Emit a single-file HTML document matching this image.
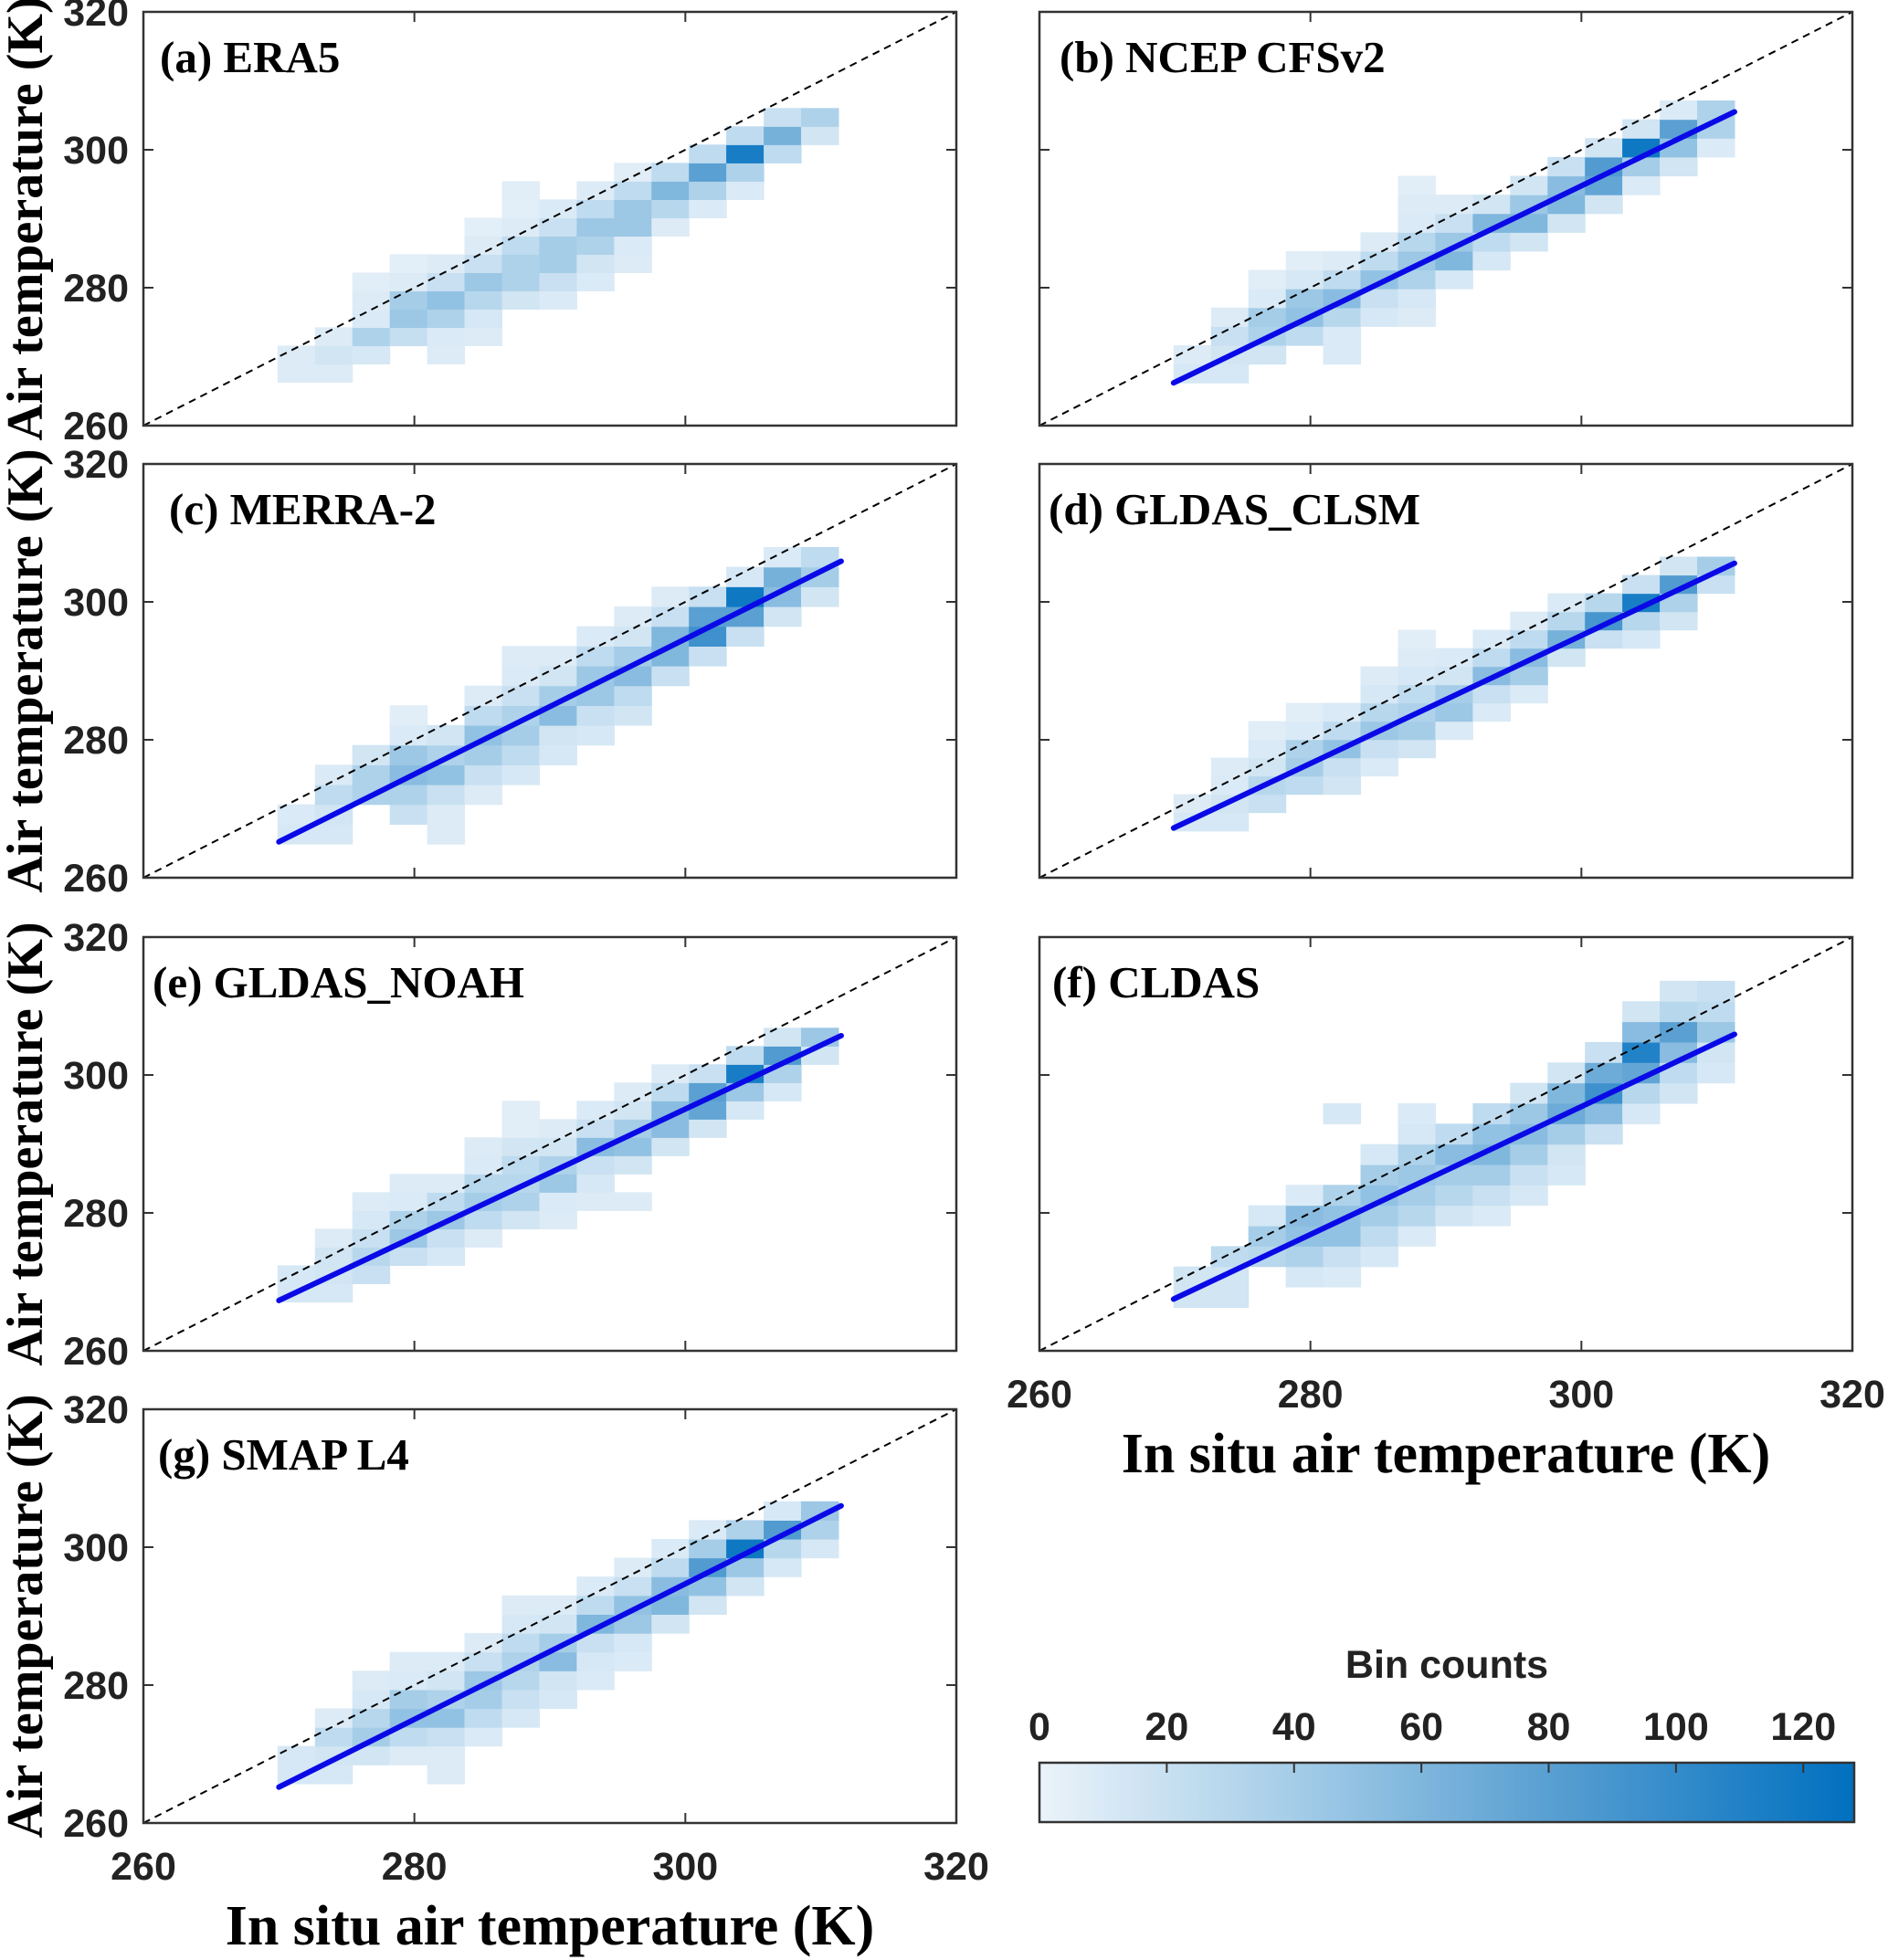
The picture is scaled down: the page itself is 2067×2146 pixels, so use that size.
<!DOCTYPE html>
<html><head><meta charset="utf-8">
<style>
html,body{margin:0;padding:0;background:#fff;}
svg{display:block;}
.tick{font-family:"Liberation Sans Narrow","Liberation Sans",sans-serif;font-weight:bold;font-size:43px;fill:#222;}
.ttl{font-family:"Liberation Serif",serif;font-weight:bold;font-size:49px;fill:#000;}
.lab{font-family:"Liberation Serif",serif;font-weight:bold;font-size:56px;fill:#000;}
.xlab{font-family:"Liberation Serif",serif;font-weight:bold;font-size:62px;fill:#000;}
</style></head>
<body>
<svg id="fig" xmlns="http://www.w3.org/2000/svg" width="2067" height="2146" viewBox="0 0 2067 2146">
<defs>
<linearGradient id="cbgrad" x1="0" x2="1" y1="0" y2="0">
<stop offset="0" stop-color="#ebf3fa"/><stop offset="0.31" stop-color="#a5cde8"/><stop offset="0.62" stop-color="#5aa0d2"/><stop offset="1" stop-color="#0070c0"/>
</linearGradient>
</defs>
</svg>
<script>
const xTicks=[260,280,300,320];
const yTicks=[260,280,300,320];
const cbTicks=[0,20,40,60,80,100,120];
const cbMax=128;
const panelNames=["(a) ERA5","(b) NCEP CFSv2","(c) MERRA-2","(d) GLDAS_CLSM","(e) GLDAS_NOAH","(f) CLDAS","(g) SMAP L4"];
const binX0=269.9, binDX=2.76;
const binY0=[266.3,266.2,264.9,266.8,267.1,266.3,265.7];
const binDY=[2.65,2.73,2.87,2.65,2.65,2.96,2.73];
// each column: [startRow, counts...]
const countsA=[[0,8,8],[0,8,15,8],[1,12,35,10,8,6],[2,22,45,40,8,5],[1,8,10,35,50,20,8],[2,8,12,30,45,20,8,5],[4,15,35,35,25,8,5,6],[4,10,20,40,40,20,10],[5,10,15,35,45,25,8],[6,8,10,45,45,25,6],[8,8,30,60,25],[9,10,35,80,25],[10,10,35,115,25],[12,25,65,20],[13,15,35]];
const countsB=[[0,12,8],[0,12,15,20,8],[1,15,35,40,10,6],[2,25,50,45,12,6],[1,10,10,30,55,25,8],[3,12,20,50,25,8],[3,8,12,35,45,30,10,8,6],[5,12,60,45,20,8],[6,12,25,60,15],[7,15,60,45,15],[8,15,60,55,20],[9,15,75,85,15],[10,10,40,120,15],[11,15,50,80,10],[12,10,35,35]];
const countsC=[[0,12,10],[0,12,15,25,10],[2,35,35,15],[1,20,35,55,45,10,6],[0,8,8,20,50,35,15],[2,8,20,40,50,25,8],[3,12,25,40,35,20,10,8],[4,12,15,55,40,15,8],[5,12,20,45,45,25,10],[6,15,25,55,40,15,8],[8,20,60,60,20,8],[9,20,95,80,20],[10,20,80,120,12],[11,15,55,65,10],[12,15,40,25]];
const countsD=[[0,12,8],[0,12,15,10,8],[1,20,30,15,10,6],[2,25,40,35,10,6],[2,15,20,50,25,10],[3,10,20,45,30,12,8],[4,15,40,35,25,12,8,6],[5,10,45,40,15,10],[6,10,20,55,25,10],[7,10,40,55,25,8],[9,15,65,30,10],[10,20,90,30],[10,12,30,115,20],[11,15,35,85,15],[13,20,40]];
const countsE=[[0,12,12],[0,12,15,15,8],[1,20,30,20,12,8],[2,20,45,35,10,8],[2,12,20,45,25,8],[3,8,25,40,30,10,8],[4,15,35,30,25,15,6,6],[4,8,10,45,35,15,8],[5,8,12,20,55,20,10],[5,8,0,15,50,40,15,8],[8,15,55,55,25,8],[9,15,75,80,20],[10,12,45,115,25],[11,12,35,85,15],[13,15,45]];
const countsF=[[0,15,15],[0,15,15,25],[2,30,40,12],[1,12,35,50,55,10],[1,10,20,50,50,35,0,0,0,12],[2,12,25,40,50,40,12],[3,10,30,40,45,35,12,10],[4,15,30,40,55,25],[4,10,20,40,60,50,25],[5,12,20,40,55,45,15],[6,12,15,40,70,60,15],[8,20,55,95,70,20],[9,12,30,75,110,55,15],[10,15,25,55,80,30,15],[11,12,15,45,25,20]];
const countsG=[[0,12,12],[0,12,15,25,8],[1,15,40,30,12,8],[1,8,25,50,40,10,8],[0,8,8,20,50,35,15,8],[2,10,25,40,45,20,8],[3,12,20,30,35,25,12,8],[4,12,15,55,40,15,8],[5,10,12,20,60,25,10],[6,10,12,45,50,20,8],[8,15,60,55,25,10],[9,15,50,85,40,10],[10,15,45,120,35],[11,12,30,85,12],[12,12,35,45]];
const allCounts=[countsA,countsB,countsC,countsD,countsE,countsF,countsG];
// fit lines: [x1,y1,x2,y2] in K (null = none)
const fitB=[269.9,266.2,311.3,305.5];
const fitC=[270.0,265.2,311.5,305.9];
const fitD=[269.9,267.2,311.3,305.6];
const fitE=[270.0,267.3,311.5,305.7];
const fitF=[269.9,267.5,311.3,305.9];
const fitG=[270.0,265.2,311.5,306.0];
const allFits=[null,fitB,fitC,fitD,fitE,fitF,fitG];
const titleOffsets=[18,22,28,10,10,14,16];

const NS="http://www.w3.org/2000/svg";
const svg=document.getElementById('fig');
function mk(tag,attrs,parent){const e=document.createElementNS(NS,tag);for(const k in attrs)e.setAttribute(k,attrs[k]);(parent||svg).appendChild(e);return e;}
const colL=157,colR=1138,PW=890,PH=453;
const rowsTop=[13,508,1026,1543];
const layout=[[colL,rowsTop[0]],[colR,rowsTop[0]],[colL,rowsTop[1]],[colR,rowsTop[1]],[colL,rowsTop[2]],[colR,rowsTop[2]],[colL,rowsTop[3]]];
const cstops=[[0,[235,243,250]],[40,[165,205,232]],[80,[90,160,210]],[128,[0,112,192]]];
function color(v){
  if(v<=0)return null;
  for(let i=0;i<cstops.length-1;i++){const a=cstops[i],b=cstops[i+1];
    if(v<=b[0]){const t=(v-a[0])/(b[0]-a[0]);return 'rgb('+a[1].map((c,j)=>Math.round(c+(b[1][j]-c)*t)).join(',')+')';}}
  return 'rgb(0,112,192)';
}
layout.forEach((pos,p)=>{
  const L=pos[0],T=pos[1];
  const sx=v=>L+(v-260)/60*PW;
  const sy=v=>T+PH-(v-260)/60*PH;
  const g=mk('g',{});
  
  
  const cg=mk('g',{},g);
  
  
  allCounts[p].forEach((col,ci)=>{
    const start=col[0];
    for(let k=1;k<col.length;k++){
      const v=col[k];const c=color(v);if(!c)continue;
      const r=start+k-1;
      const x1=binX0+ci*binDX,x2=x1+binDX;
      const y1=binY0[p]+r*binDY[p],y2=y1+binDY[p];
      const rc=mk('rect',{x:sx(x1).toFixed(1),y:sy(y2).toFixed(1),width:(sx(x2)-sx(x1)+0.6).toFixed(1),height:(sy(y1)-sy(y2)+0.6).toFixed(1),fill:c},cg);
      
      
    }
  });
  const d=mk('line',{x1:sx(260),y1:sy(260),x2:sx(320),y2:sy(320),stroke:'#000','stroke-width':2,'stroke-dasharray':'8,6'},g);
  
  
  const f=allFits[p];
  if(f){const fl=mk('line',{x1:sx(f[0]),y1:sy(f[1]),x2:sx(f[2]),y2:sy(f[3]),stroke:'#0a0ae6','stroke-width':6,'stroke-linecap':'round'},g);
    
    }
  const box=mk('rect',{x:L,y:T,width:PW,height:PH,fill:'none',stroke:'#333','stroke-width':2.5},g);
  
  
  xTicks.slice(1,-1).forEach(t=>{
    mk('line',{x1:sx(t),x2:sx(t),y1:T+PH,y2:T+PH-11,stroke:'#333','stroke-width':2},g);
    mk('line',{x1:sx(t),x2:sx(t),y1:T,y2:T+11,stroke:'#333','stroke-width':2},g);
  });
  yTicks.slice(1,-1).forEach(t=>{
    mk('line',{x1:L,x2:L+11,y1:sy(t),y2:sy(t),stroke:'#333','stroke-width':2},g);
    mk('line',{x1:L+PW,x2:L+PW-11,y1:sy(t),y2:sy(t),stroke:'#333','stroke-width':2},g);
  });
  const tt=mk('text',{x:L+titleOffsets[p],y:T+66,'class':'ttl'},g);tt.textContent=panelNames[p];
  
  
  if(L===colL){
    yTicks.forEach(t=>{const e=mk('text',{x:L-16,y:sy(t)+15,'text-anchor':'end','class':'tick'},g);e.textContent=t;
      
      });
    const yl=mk('text',{x:0,y:0,'text-anchor':'middle','class':'lab',transform:'translate(46,'+(T+PH/2)+') rotate(-90)'},g);
    yl.textContent='Air temperature (K)';
    
    
  }
  if(p===5||p===6){
    xTicks.forEach(t=>{const e=mk('text',{x:sx(t),y:T+PH+62,'text-anchor':'middle','class':'tick'},g);e.textContent=t;
      
      });
    const xl=mk('text',{x:L+PW/2,y:T+PH+133,'text-anchor':'middle','class':'xlab'},g);
    xl.textContent='In situ air temperature (K)';
    
    
  }
});
// colorbar
const cbL=1138,cbW=892,cbT=1930,cbH=65;
const cb=mk('g',{});


mk('rect',{x:cbL,y:cbT,width:cbW,height:cbH,fill:'url(#cbgrad)',stroke:'#333','stroke-width':2.5},cb);
cbTicks.forEach(t=>{const x=cbL+t/cbMax*cbW;
  if(t>0)mk('line',{x1:x,x2:x,y1:cbT,y2:cbT+11,stroke:'#333','stroke-width':2},cb);
  const e=mk('text',{x:x,y:1905,'text-anchor':'middle','class':'tick'},cb);e.textContent=t;
  
  });
const cbt=mk('text',{x:cbL+cbW/2,y:1837,'text-anchor':'middle','class':'tick'},cb);cbt.textContent='Bin counts';


</script>
</body></html>
